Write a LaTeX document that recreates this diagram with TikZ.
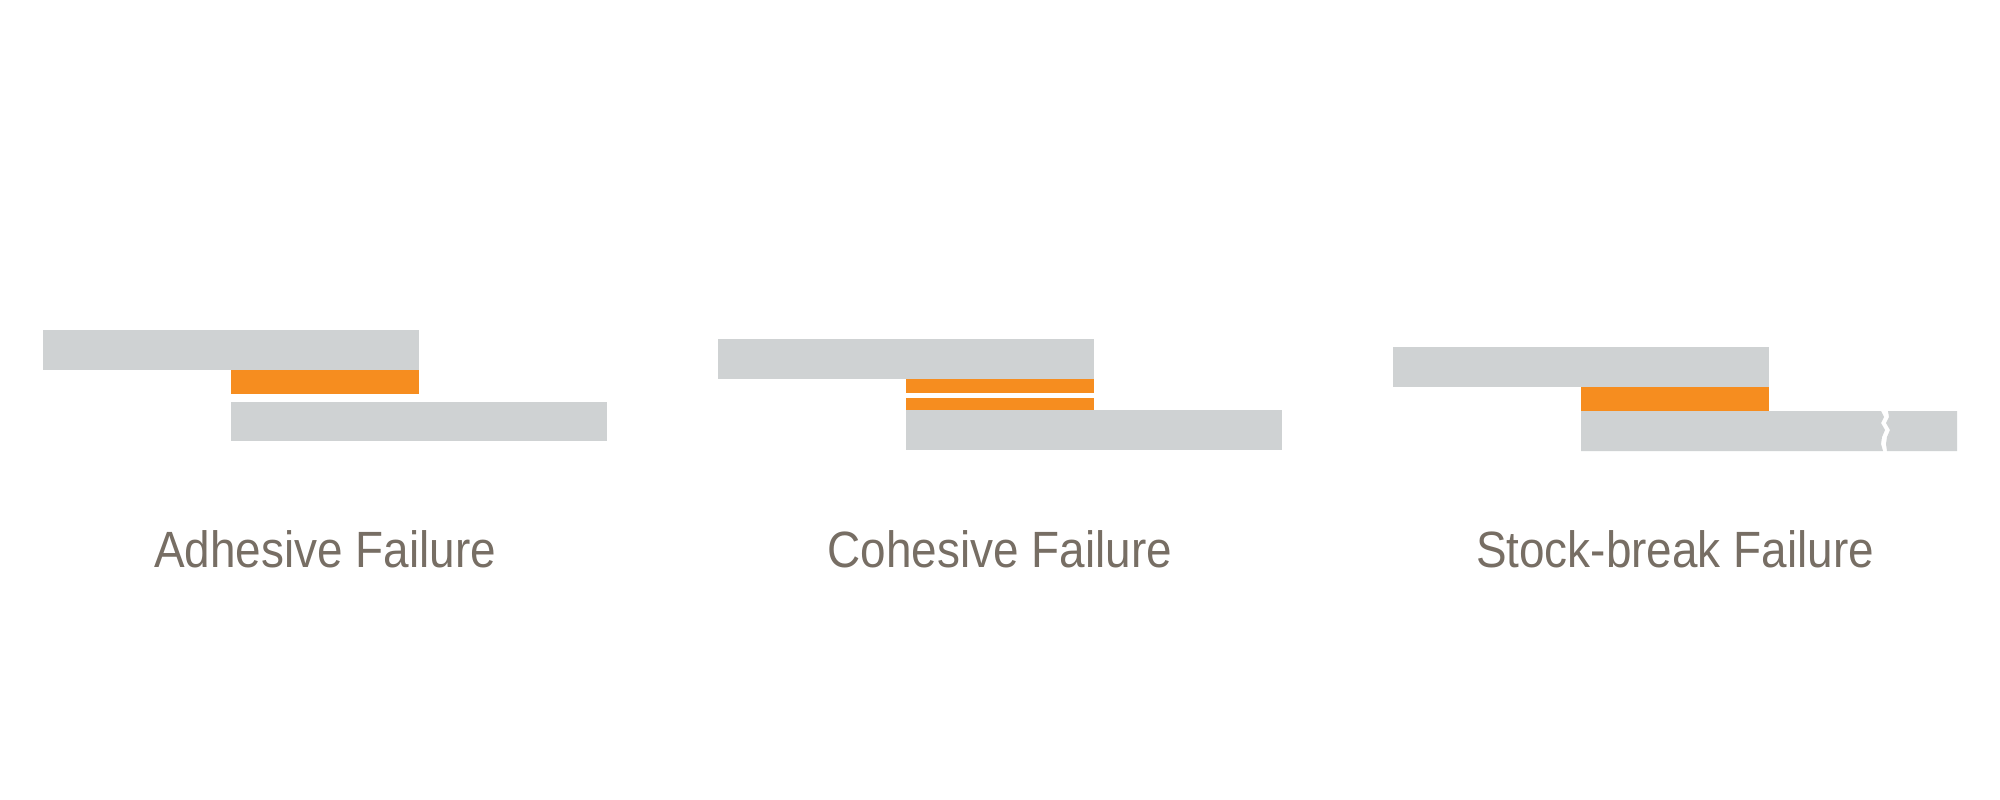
\documentclass[tikz,border=0pt]{standalone}
\usepackage{fontspec}
\newfontfamily\labelfont[FakeStretch=0.9]{Liberation Sans}
\definecolor{bargray}{HTML}{CFD2D3}
\definecolor{glue}{HTML}{F68D1F}
\definecolor{labeltext}{HTML}{776E64}
\begin{document}
\begin{tikzpicture}[x=1pt,y=-1pt,
  stock/.style={fill=bargray},
  adh/.style={fill=glue},
  caption/.style={anchor=base,inner sep=0pt,text=labeltext,font=\labelfont\fontsize{51}{60}\selectfont}]
\useasboundingbox[fill=white] (0,0) rectangle (2000,800);
% Panel 1: adhesive failure
\fill[stock] (43,330) rectangle (419,370);
\fill[adh] (231,370) rectangle (419,394);
\fill[stock] (231,402) rectangle (607,441);
\node[caption] (adhesive) at (325,567) {Adhesive Failure};
% Panel 2: cohesive failure
\fill[stock] (718,339) rectangle (1094,379);
\fill[adh] (906,379) rectangle (1094,393);
\fill[adh] (906,398) rectangle (1094,410);
\fill[stock] (906,410) rectangle (1282,450);
\node[caption] (cohesive) at (1000,567) {Cohesive Failure};
% Panel 3: stock-break failure
\fill[stock] (1393,347) rectangle (1769,387);
\fill[adh] (1581,387) rectangle (1769,411);
\fill[stock] (1581,411) -- (1881,411) -- (1884,417) -- (1881,423) -- (1885,430)
  -- (1882,437) -- (1881,444) -- (1883,451) -- (1581,451) -- cycle;
\fill[stock] (1888,411) -- (1957,411) -- (1957,451) -- (1887,451) -- (1886,444)
  -- (1887,437) -- (1890,430) -- (1886,423) -- (1889,417) -- cycle;
\node[caption] (stockbreak) at (1675,567) {Stock-break Failure};
\end{tikzpicture}
\end{document}
